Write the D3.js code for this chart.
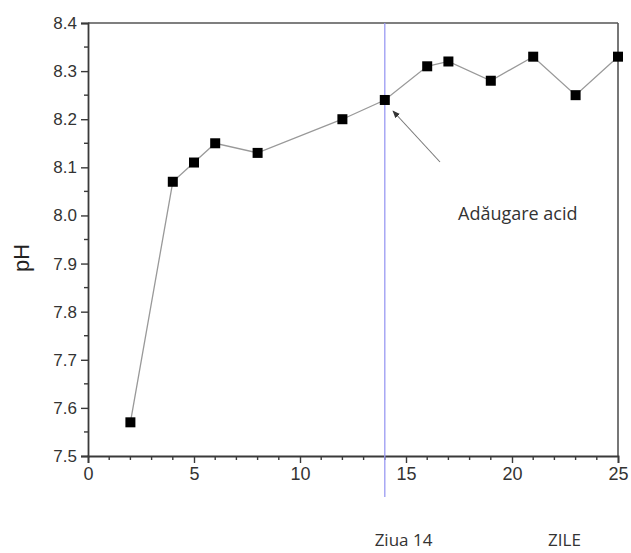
<!DOCTYPE html>
<html><head><meta charset="utf-8">
<script src="https://cdn.jsdelivr.net/npm/d3@7"></script>
<style>body{margin:0;background:#fff}svg{display:block}</style>
</head><body>
<svg id="c" width="631" height="553"></svg>
<script>
const days = [2,4,5,6,8,12,14,16,17,19,21,23,25];
const phValues = [7.57,8.07,8.11,8.15,8.13,8.20,8.24,8.31,8.32,8.28,8.33,8.25,8.33];
const xTicks = [0,5,10,15,20,25];
const yTicks = [7.5,7.6,7.7,7.8,7.9,8.0,8.1,8.2,8.3,8.4];
const markerDay = 14;
const annotationText = "Adăugare acid";
const bottomLabels = ["Ziua 14","ZILE"];
const yLabel = "pH";

const svg = d3.select("#c");
const L=88,R=618,T=23,B=456;
const x = d3.scaleLinear().domain([0,25]).range([L,R]);
const y = d3.scaleLinear().domain([7.5,8.4]).range([B,T]);
const axisColor="#3a3a3a", textColor="#333";

// frame top & right
svg.append("line").attr("x1",L).attr("x2",R).attr("y1",T).attr("y2",T).attr("stroke","#555").attr("stroke-width",1.6);
svg.append("line").attr("x1",R).attr("x2",R).attr("y1",T).attr("y2",B).attr("stroke","#555").attr("stroke-width",1.6);

// minor ticks
const xMinor = d3.range(0,26,1).filter(v=>!xTicks.includes(v));
const yMinor = d3.range(0,19).map(i=>+(7.5+i*0.05).toFixed(2)).filter(v=>!yTicks.some(t=>Math.abs(t-v)<1e-6));

const gx = svg.append("g").attr("transform",`translate(0,${B})`)
  .call(d3.axisBottom(x).tickValues(xTicks).tickFormat(d3.format("d")).tickSize(7).tickPadding(4));
gx.append("g").selectAll("line").data(xMinor).join("line")
  .attr("x1",d=>x(d)).attr("x2",d=>x(d)).attr("y1",0).attr("y2",4).attr("stroke",axisColor).attr("stroke-width",1.4);
const gy = svg.append("g").attr("transform",`translate(${L},0)`)
  .call(d3.axisLeft(y).tickValues(yTicks).tickFormat(d3.format(".1f")).tickSize(7).tickPadding(4));
gy.append("g").selectAll("line").data(yMinor).join("line")
  .attr("y1",d=>y(d)).attr("y2",d=>y(d)).attr("x1",0).attr("x2",-4).attr("stroke",axisColor).attr("stroke-width",1.4);
[gx,gy].forEach(g=>{
  g.select(".domain").attr("stroke",axisColor).attr("stroke-width",1.8);
  g.selectAll(".tick line").attr("stroke",axisColor).attr("stroke-width",1.4);
  g.selectAll("text").attr("fill",textColor).attr("font-family","Liberation Sans, Arial, sans-serif");
});
gy.selectAll("text").attr("font-size",17);
gx.selectAll("text").attr("font-size",18);

// vertical blue line
svg.append("line").attr("x1",x(markerDay)).attr("x2",x(markerDay)).attr("y1",T).attr("y2",497)
  .attr("stroke","#9a9af2").attr("stroke-width",1.3);

// data line
const pts = days.map((d,i)=>[d,phValues[i]]);
svg.append("path").datum(pts).attr("fill","none").attr("stroke","#999").attr("stroke-width",1.3)
  .attr("d",d3.line().x(d=>x(d[0])).y(d=>y(d[1])));
svg.append("g").selectAll("rect").data(pts).join("rect")
  .attr("x",d=>x(d[0])-5).attr("y",d=>y(d[1])-5).attr("width",10).attr("height",10).attr("fill","#000");

// arrow
const defs = svg.append("defs");
defs.append("marker").attr("id","ah").attr("viewBox","0 0 10 10").attr("refX",9).attr("refY",5)
  .attr("markerWidth",7).attr("markerHeight",7).attr("orient","auto-start-reverse")
  .append("path").attr("d","M0,1 L10,5 L0,9 z").attr("fill","#333");
svg.append("line").attr("x1",440).attr("y1",162).attr("x2",393).attr("y2",111)
  .attr("stroke","#777").attr("stroke-width",1.1).attr("marker-end","url(#ah)");

svg.append("text").attr("x",458).attr("y",220).text(annotationText)
  .attr("font-family","Open Sans, sans-serif").attr("font-size",18).attr("fill","#333");

// y label
svg.append("text").attr("transform","translate(29,258) rotate(-90)").attr("text-anchor","middle")
  .text(yLabel).attr("font-family","Liberation Sans, Arial, sans-serif").attr("font-size",22).attr("fill","#222");

// bottom labels
svg.append("text").attr("x",403.5).attr("y",546).attr("text-anchor","middle").text(bottomLabels[0])
  .attr("font-family","Open Sans, sans-serif").attr("font-size",17).attr("fill","#333");
svg.append("text").attr("x",564.5).attr("y",546).attr("text-anchor","middle").text(bottomLabels[1])
  .attr("font-family","Open Sans, sans-serif").attr("font-size",17).attr("fill","#333");
</script>
</body></html>
